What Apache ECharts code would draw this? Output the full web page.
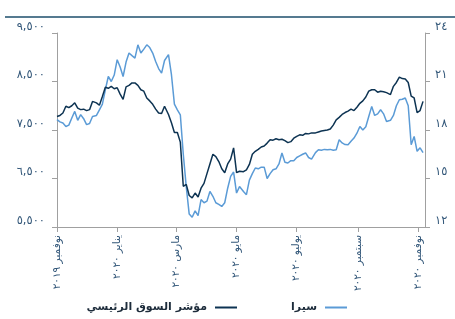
<!DOCTYPE html>
<html>
<head>
<meta charset="utf-8">
<script src="https://cdn.jsdelivr.net/npm/echarts@6/dist/echarts.min.js"></script>
<style>html,body{margin:0;padding:0;background:#fff;}#c{width:455px;height:319px;}</style>
</head>
<body>
<div id="c"></div>
<script>
// Day offsets from 1 Nov 2019
const days = [0,3,6,9,12,15,18,21,24,27,30,33,36,40,43,46,49,52,55,58,61,64,67,70,73,76,79,82,85,88,91,94,97,100,103,106,109,113,116,119,122,125,128,131,134,137,140,143,146,149,152,155,158,161,164,167,170,173,176,179,182,185,189,192,195,198,201,204,207,210,213,216,219,222,225,228,231,234,237,240,243,246,249,252,255,258,262,265,268,271,274,277,280,283,286,289,292,295,298,301,304,307,310,313,316,319,322,325,328,331,334,338,341,344,347,350,353,356,359,362,365,368,371];

// Main market index (left axis)
const tasi = [7780,7800,7850,7990,7960,8000,8060,7950,7920,7930,7900,7920,8090,8060,8010,8190,8380,8360,8400,8350,8370,8240,8130,8390,8420,8470,8470,8420,8330,8300,8160,8100,8030,7930,7850,7840,7990,7820,7650,7450,7450,7250,6340,6380,6150,6100,6200,6120,6300,6400,6600,6800,7000,6950,6850,6700,6620,6800,6900,7130,6620,6650,6640,6680,6790,7000,7060,7100,7150,7170,7230,7300,7290,7320,7300,7310,7280,7240,7260,7330,7370,7400,7390,7430,7420,7440,7440,7460,7480,7490,7500,7520,7600,7710,7760,7820,7860,7890,7930,7900,7970,8050,8100,8180,8300,8330,8330,8280,8300,8290,8270,8230,8400,8480,8590,8560,8550,8480,8200,8160,7860,7900,8090];

// SIRA (right axis)
const sira = [18.64,18.5,18.43,18.22,18.3,18.74,19.15,18.6,18.95,18.7,18.33,18.4,18.84,18.9,19.25,19.6,20.49,21.31,21.0,21.4,22.35,21.9,21.31,22.2,22.76,22.6,22.45,23.27,22.76,23.0,23.27,23.1,22.76,22.24,21.8,21.52,22.3,22.66,21.42,19.6,19.25,18.94,16.5,14.5,12.8,12.6,13.0,12.7,13.7,13.5,13.6,14.2,13.9,13.5,13.4,13.27,13.5,14.4,15.13,15.4,14.1,14.5,14.2,14.0,14.9,15.3,15.65,15.6,15.7,15.7,15.0,15.3,15.54,15.6,15.9,16.58,16.0,15.96,16.1,16.1,16.3,16.4,16.5,16.58,16.3,16.2,16.6,16.78,16.75,16.8,16.78,16.8,16.75,16.78,17.4,17.2,17.1,17.09,17.3,17.5,17.8,18.22,18.0,18.2,18.84,19.46,18.9,19.0,19.25,19.0,18.53,18.6,18.9,19.5,19.87,19.9,19.98,19.5,17.09,17.6,16.68,16.9,16.6];

const tickDays = [0,61,121,182,243,305,366];
const xLabels = ['نوفمبر ٢٠١٩','يناير ٢٠٢٠','مارس ٢٠٢٠','مايو ٢٠٢٠','يوليو ٢٠٢٠','سبتمبر ٢٠٢٠','نوفمبر ٢٠٢٠'];
const leftTicks = [5500,6500,7500,8500,9500];
const leftLabels = ['٥,٥٠٠','٦,٥٠٠','٧,٥٠٠','٨,٥٠٠','٩,٥٠٠'];
const rightTicks = [12,15,18,21,24];
const rightLabels = ['١٢','١٥','١٨','٢١','٢٤'];
const seriesNames = ['مؤشر السوق الرئيسي','سيرا'];

const FONT = 'DejaVu Sans';
const TXT = '#34587a';
const AX = '#a0a0a0';
const DARK = '#0d3352';
const LIGHT = '#5b9bd6';

const chart = echarts.init(document.getElementById('c'), null, {renderer:'canvas'});
const legendText = {fontFamily:FONT, fontSize:11, fontWeight:'bold', color:'#1c2b3a', padding:[0,3,0,0]};
chart.setOption({
  animation:false,
  textStyle:{fontFamily:FONT},
  graphic:[{type:'rect', shape:{x:5,y:16,width:450,height:2}, style:{fill:'#557a90'}}],
  grid:{left:57,right:30,top:33,bottom:92,containLabel:false},
  legend:[
    {data:[seriesNames[0]], right:218, top:302, padding:0, align:'right', icon:'rect', itemWidth:22, itemHeight:2, textStyle:legendText},
    {data:[seriesNames[1]], right:108, top:302, padding:0, align:'right', icon:'rect', itemWidth:22, itemHeight:2, textStyle:legendText}
  ],
  xAxis:{type:'value', min:0, max:373,
    axisLine:{show:true, lineStyle:{color:AX, width:1}},
    axisTick:{show:true, length:5, lineStyle:{color:AX}, customValues:tickDays},
    axisLabel:{rotate:90, margin:8, fontSize:10.5, color:TXT, fontFamily:FONT, customValues:tickDays,
      formatter:(v)=>{const i=tickDays.indexOf(v); return i>=0?xLabels[i]:'';}},
    splitLine:{show:false}},
  yAxis:[
    {type:'value', position:'left', min:5500, max:9500,
      axisLine:{show:true, lineStyle:{color:AX}},
      axisTick:{show:true, length:5, lineStyle:{color:AX}, customValues:leftTicks},
      axisLabel:{margin:12, fontSize:11.5, color:TXT, fontFamily:FONT, verticalAlign:'bottom', customValues:leftTicks,
        formatter:(v)=>{const i=leftTicks.indexOf(v); return i>=0?leftLabels[i]:'';}},
      splitLine:{show:false}},
    {type:'value', position:'right', min:12, max:24, interval:3,
      axisLine:{show:true, lineStyle:{color:AX}},
      axisTick:{show:true, length:5, lineStyle:{color:AX}},
      axisLabel:{margin:10, fontSize:11.5, color:TXT, fontFamily:FONT, verticalAlign:'bottom',
        formatter:(v)=>{const i=rightTicks.indexOf(v); return i>=0?rightLabels[i]:'';}},
      splitLine:{show:false}}
  ],
  series:[
    {name:seriesNames[0], type:'line', yAxisIndex:0, showSymbol:false, symbol:'none',
     lineStyle:{color:DARK, width:1.5}, itemStyle:{color:DARK}, z:3,
     data:days.map((d,i)=>[d,tasi[i]])},
    {name:seriesNames[1], type:'line', yAxisIndex:1, showSymbol:false, symbol:'none',
     lineStyle:{color:LIGHT, width:1.5}, itemStyle:{color:LIGHT}, z:2,
     data:days.map((d,i)=>[d,sira[i]])}
  ]
});
</script>
</body>
</html>
